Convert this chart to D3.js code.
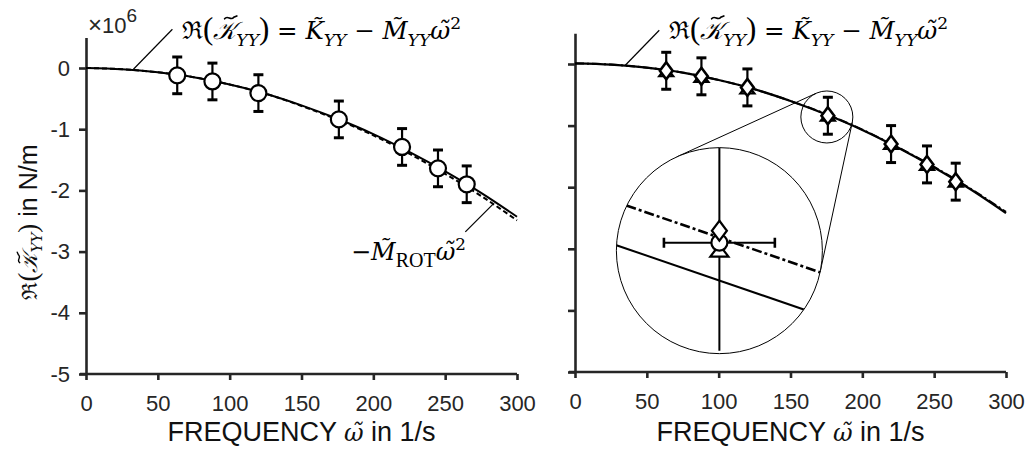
<!DOCTYPE html>
<html>
<head>
<meta charset="utf-8">
<script src="https://cdn.jsdelivr.net/npm/d3@7"></script>
<style>
  body { margin: 0; background: #fff; }
  svg { display: block; }
</style>
</head>
<body>
<div id="chart"></div>
<script>
// measured points (omega in 1/s, values in 1e6 N/m)
var omega = [63.5, 88, 120, 176, 220, 245, 265];
var leftCircle = [-0.12, -0.22, -0.41, -0.84, -1.29, -1.64, -1.90];
var rightCircle = [-0.12, -0.22, -0.40, -0.85, -1.31, -1.64, -1.92];
var rightTriangle = [-0.14, -0.23, -0.42, -0.86, -1.32, -1.66, -1.93];
var rightDiamond = [-0.11, -0.20, -0.38, -0.84, -1.30, -1.63, -1.91];
var errY = [0.3, 0.3, 0.3, 0.3, 0.3, 0.3, 0.3];

// fitted curves
var curveOmega = [0, 25, 50, 75, 100, 125, 150, 175, 200, 225, 250, 275, 300];
var fitLeft = [0.00, -0.02, -0.07, -0.15, -0.27, -0.42, -0.61, -0.83, -1.08, -1.37, -1.69, -2.04, -2.43];
var rotLeft = [0.00, -0.02, -0.07, -0.15, -0.27, -0.42, -0.62, -0.845, -1.10, -1.40, -1.73, -2.09, -2.49];
var fitRight = [0.01, -0.01, -0.06, -0.14, -0.26, -0.41, -0.60, -0.82, -1.07, -1.36, -1.68, -2.03, -2.42];
var rotRight = [0.01, -0.01, -0.06, -0.14, -0.26, -0.41, -0.60, -0.815, -1.065, -1.355, -1.67, -2.02, -2.40];

// magnified view around the point at 176 1/s
var insetOmega = [176];
var insetCircle = [-0.767];
var insetDiamond = [-0.717];
var insetTriangle = [-0.805];
var insetErrOmega = [14];
var insetErrY = [0.45];
var insetLineOmega = [148, 204];
var insetFit = [-0.766, -1.083];
var insetRot = [-0.586, -0.905];

var xTicks = [0, 50, 100, 150, 200, 250, 300];
var yTicks = [0, -1, -2, -3, -4, -5];

var width = 1027, height = 450;
var axisColor = '#262626';
var sans = '"Liberation Sans", Arial, sans-serif';
var serif = '"DejaVu Serif", serif';
var upright = '"Liberation Serif", serif';

var svg = d3.select('#chart').append('svg')
    .attr('width', width)
    .attr('height', height);

svg.append('rect').attr('width', width).attr('height', height).attr('fill', '#fff');

// writes a run of math pieces as tspans; sub/sup shift the baseline
function mathText(g, x, y, size, parts) {
    var text = g.append('text')
        .attr('x', x).attr('y', y)
        .attr('font-family', serif)
        .attr('font-size', size)
        .attr('fill', '#000');
    var shift = 0;
    parts.forEach(function(p) {
        var target = p.sub ? size * 0.28 : (p.sup ? -size * 0.42 : 0);
        var ts = text.append('tspan')
            .attr('dy', target - shift)
            .text(p.t);
        shift = target;
        if (p.sub || p.sup) ts.attr('font-size', size * 0.7);
        if (p.size) ts.attr('font-size', p.size);
        if (p.it) ts.attr('font-style', 'italic');
        if (p.fam) ts.attr('font-family', p.fam);
        if (p.cls) ts.attr('class', p.cls);
    });
    return text;
}

// the script K comes from a fallback font without combining marks,
// so its tilde is drawn as a small stroke above the glyph
function tildeOver(g, tspan, baseline, size) {
    var b = tspan.node().getBBox();
    var w = size * 0.5, h = size * 0.09;
    var x0 = b.x + b.width * 0.58 - w / 2;
    var y0 = baseline - size * 0.86;
    g.append('path')
        .attr('d', 'M' + x0 + ',' + (y0 + h * 0.4) +
            'C' + (x0 + w * 0.25) + ',' + (y0 - h * 1.6) + ' ' + (x0 + w * 0.5) + ',' + (y0 + h * 1.6) + ' ' +
            (x0 + w * 0.75) + ',' + (y0 - h * 0.3) +
            'L' + (x0 + w) + ',' + (y0 - h * 0.9))
        .attr('fill', 'none').attr('stroke', '#000').attr('stroke-width', size * 0.065)
        .attr('stroke-linecap', 'round');
}

var formulaParts = [
    { t: 'ℜ' },
    { t: '(', size: 31, fam: upright },
    { t: '𝒦', it: true, cls: 'scriptK' },
    { t: 'YY', sub: true, it: true },
    { t: ')', size: 31, fam: upright },
    { t: ' = ' },
    { t: 'K̃', it: true },
    { t: 'YY', sub: true, it: true },
    { t: ' − ' },
    { t: 'M̃', it: true },
    { t: 'YY', sub: true, it: true },
    { t: 'ω̃', it: true },
    { t: '2', sup: true }
];

function drawPanel(opts) {
    var x = d3.scaleLinear().domain([0, 300]).range(opts.xRange);
    var y = d3.scaleLinear().domain([-5, 0.5]).range(opts.yRange);
    var g = svg.append('g');

    var xAxis = g.append('g')
        .attr('transform', 'translate(0,' + y(-5) + ')')
        .call(d3.axisBottom(x).tickValues(xTicks).tickSize(6).tickSizeOuter(0).tickPadding(15)
            .tickFormat(function(d) { return String(d); }));
    var yAxis = g.append('g')
        .attr('transform', 'translate(' + x(0) + ',0)')
        .call(d3.axisLeft(y).tickValues(yTicks).tickSize(7).tickSizeOuter(0).tickPadding(9)
            .tickFormat(function(d) { return opts.yLabels ? String(d) : ''; }));

    [xAxis, yAxis].forEach(function(a) {
        a.select('.domain').attr('stroke', axisColor).attr('stroke-width', 2.6);
        a.selectAll('.tick line').attr('stroke', axisColor).attr('stroke-width', 2.6);
        a.selectAll('.tick text').attr('fill', axisColor)
            .attr('font-family', sans).attr('font-size', 22);
    });
    // extend x axis line slightly left like the original
    xAxis.select('.domain').attr('d', 'M' + (x(0) - 6) + ',0H' + x(300));

    g.append('text')
        .attr('x', (x(0) + x(300)) / 2)
        .attr('y', 441)
        .attr('text-anchor', 'middle')
        .attr('font-family', sans)
        .attr('font-size', 27)
        .attr('fill', '#111')
        .call(function(t) {
            t.append('tspan').text('FREQUENCY ');
            t.append('tspan').attr('font-family', serif).attr('font-style', 'italic').attr('font-size', 24).text('ω̃');
            t.append('tspan').text(' in 1/s');
        });

    return { x: x, y: y, g: g };
}

function curvePath(xs, ys, sx, sy) {
    return d3.line()
        .x(function(d) { return sx(d[0]); })
        .y(function(d) { return sy(d[1]); })
        .curve(d3.curveMonotoneX)(d3.zip(xs, ys));
}

function errorBars(g, xs, ys, errs, sx, sy, cap) {
    var data = d3.zip(xs, ys, errs);
    var eb = g.append('g').attr('stroke', '#000').attr('stroke-width', 2.2);
    eb.selectAll('line.v').data(data).enter().append('line')
        .attr('x1', function(d) { return sx(d[0]); })
        .attr('x2', function(d) { return sx(d[0]); })
        .attr('y1', function(d) { return sy(d[1] + d[2]); })
        .attr('y2', function(d) { return sy(d[1] - d[2]); });
    [1, -1].forEach(function(s) {
        eb.selectAll('line.c' + s).data(data).enter().append('line')
            .attr('x1', function(d) { return sx(d[0]) - cap; })
            .attr('x2', function(d) { return sx(d[0]) + cap; })
            .attr('y1', function(d) { return sy(d[1] + s * d[2]); })
            .attr('y2', function(d) { return sy(d[1] + s * d[2]); })
            .attr('stroke-width', 3);
    });
}

function markers(g, xs, ys, sx, sy, kind, sz, sw) {
    var sym = g.append('g').selectAll('path').data(d3.zip(xs, ys)).enter().append('path')
        .attr('fill', '#fff').attr('stroke', '#000').attr('stroke-width', sw || 2.2)
        .attr('transform', function(d) { return 'translate(' + sx(d[0]) + ',' + sy(d[1]) + ')'; });
    if (kind === 'circle') {
        sym.attr('d', 'M' + sz + ',0A' + sz + ',' + sz + ' 0 1,1 ' + (-sz) + ',0A' + sz + ',' + sz + ' 0 1,1 ' + sz + ',0Z');
    } else if (kind === 'diamond') {
        var w = sz * 0.75;
        sym.attr('d', 'M0,' + (-sz) + 'L' + w + ',0L0,' + sz + 'L' + (-w) + ',0Z');
    } else {
        var h = sz * 1.3;
        sym.attr('d', 'M0,' + (-h * 0.6) + 'L' + sz + ',' + (h * 0.4) + 'L' + (-sz) + ',' + (h * 0.4) + 'Z');
    }
}

// ---------- left panel ----------
var L = drawPanel({ xRange: [86, 517], yRange: [374, 37.4], yLabels: true });

L.g.append('path').attr('d', curvePath(curveOmega, rotLeft, L.x, L.y))
    .attr('fill', 'none').attr('stroke', '#000').attr('stroke-width', 2)
    .attr('stroke-dasharray', '5,3');
L.g.append('path').attr('d', curvePath(curveOmega, fitLeft, L.x, L.y))
    .attr('fill', 'none').attr('stroke', '#000').attr('stroke-width', 2);

errorBars(L.g, omega, leftCircle, errY, L.x, L.y, 5);
markers(L.g, omega, leftCircle, L.x, L.y, 'circle', 8);

// x10^6 label
svg.append('text').attr('x', 88).attr('y', 33)
    .attr('font-family', sans).attr('font-size', 22).attr('fill', axisColor)
    .call(function(t) {
        t.append('tspan').attr('font-size', 24).text('×');
        t.append('tspan').text('10');
        t.append('tspan').attr('dy', -11).attr('font-size', 19).text('6');
    });

// y axis title
var yl = svg.append('g').attr('transform', 'translate(37,222) rotate(-90)');
var ylText = yl.append('text')
    .attr('text-anchor', 'middle')
    .attr('font-family', sans).attr('font-size', 25).attr('fill', '#111');
ylText.append('tspan').attr('font-family', serif).attr('font-size', 21).text('ℜ');
ylText.append('tspan').attr('font-family', upright).attr('font-size', 27).text('(');
var ylK = ylText.append('tspan').attr('font-family', serif).attr('font-size', 21).attr('font-style', 'italic').text('𝒦');
ylText.append('tspan').attr('font-family', serif).attr('font-style', 'italic').attr('font-size', 15).attr('dy', 5).text('YY');
ylText.append('tspan').attr('font-family', upright).attr('font-size', 27).attr('dy', -5).text(')');
ylText.append('tspan').text(' in N/m');
tildeOver(yl, ylK, 0, 21);

// annotations left
L.g.append('line')
    .attr('x1', L.x(33)).attr('y1', L.y(-0.02))
    .attr('x2', L.x(33) + 39).attr('y2', L.y(-0.02) - 40)
    .attr('stroke', '#000').attr('stroke-width', 1.2);
var fL = mathText(L.g, 182, 39, 24.5, formulaParts);
tildeOver(L.g, fL.select('.scriptK'), 39, 24.5);

L.g.append('line')
    .attr('x1', L.x(283.5)).attr('y1', L.y(-2.22))
    .attr('x2', L.x(283.5) - 28).attr('y2', L.y(-2.22) + 28)
    .attr('stroke', '#000').attr('stroke-width', 1.2);
mathText(L.g, 351, 260, 24, [
    { t: '−' },
    { t: 'M̃', it: true },
    { t: 'ROT', sub: true, fam: upright, size: 20 },
    { t: 'ω̃', it: true },
    { t: '2', sup: true }
]);

// ---------- right panel ----------
var R = drawPanel({ xRange: [575, 1006], yRange: [372, 33.2], yLabels: false });

R.g.append('path').attr('d', curvePath(curveOmega, rotRight, R.x, R.y))
    .attr('fill', 'none').attr('stroke', '#000').attr('stroke-width', 2)
    .attr('stroke-dasharray', '9,3,2,3');
R.g.append('path').attr('d', curvePath(curveOmega, fitRight, R.x, R.y))
    .attr('fill', 'none').attr('stroke', '#000').attr('stroke-width', 2.2);

errorBars(R.g, omega, rightDiamond, errY, R.x, R.y, 5);
markers(R.g, omega, rightCircle, R.x, R.y, 'circle', 5);
markers(R.g, omega, rightTriangle, R.x, R.y, 'triangle', 7);
markers(R.g, omega, rightDiamond, R.x, R.y, 'diamond', 8.5, 2.6);

R.g.append('line')
    .attr('x1', R.x(35)).attr('y1', R.y(-0.02))
    .attr('x2', R.x(35) + 34).attr('y2', R.y(-0.02) - 35)
    .attr('stroke', '#000').attr('stroke-width', 1.2);
var fR = mathText(R.g, 669, 39, 24.5, formulaParts);
tildeOver(R.g, fR.select('.scriptK'), 39, 24.5);

// zoom circles
var sc = { x: R.x(insetOmega[0]) - 1, y: R.y(-0.86), r: 26 };
var bc = { x: R.x(100.5), y: R.y(-3.03), r: 103 };
var dx = bc.x - sc.x, dy = bc.y - sc.y;
var D = Math.sqrt(dx * dx + dy * dy);
var th = Math.atan2(dy, dx), al = Math.acos((sc.r - bc.r) / D);
[th + al, th - al].forEach(function(a) {
    R.g.append('line')
        .attr('x1', sc.x + sc.r * Math.cos(a)).attr('y1', sc.y + sc.r * Math.sin(a))
        .attr('x2', bc.x + bc.r * Math.cos(a)).attr('y2', bc.y + bc.r * Math.sin(a))
        .attr('stroke', '#000').attr('stroke-width', 1);
});
R.g.append('circle').attr('cx', sc.x).attr('cy', sc.y).attr('r', sc.r)
    .attr('fill', 'none').attr('stroke', '#000').attr('stroke-width', 1);
R.g.append('circle').attr('cx', bc.x).attr('cy', bc.y).attr('r', bc.r)
    .attr('fill', '#fff').attr('stroke', '#000').attr('stroke-width', 1);

svg.append('clipPath').attr('id', 'insetClip')
    .append('circle').attr('cx', bc.x).attr('cy', bc.y).attr('r', bc.r);

var xi = d3.scaleLinear().domain([150, 202]).range([bc.x - bc.r, bc.x + bc.r]);
var yi = d3.scaleLinear().domain([-1.229, -0.371]).range([bc.y + bc.r, bc.y - bc.r]);
var ig = R.g.append('g').attr('clip-path', 'url(#insetClip)');

ig.append('path').attr('d', d3.line().x(function(d) { return xi(d[0]); }).y(function(d) { return yi(d[1]); })(d3.zip(insetLineOmega, insetFit)))
    .attr('fill', 'none').attr('stroke', '#000').attr('stroke-width', 2);
ig.append('path').attr('d', d3.line().x(function(d) { return xi(d[0]); }).y(function(d) { return yi(d[1]); })(d3.zip(insetLineOmega, insetRot)))
    .attr('fill', 'none').attr('stroke', '#000').attr('stroke-width', 2.6)
    .attr('stroke-dasharray', '10,3,3,3');

// vertical and horizontal error bars of the magnified point
ig.append('line')
    .attr('x1', xi(insetOmega[0])).attr('x2', xi(insetOmega[0]))
    .attr('y1', yi(insetCircle[0] + insetErrY[0])).attr('y2', yi(insetCircle[0] - insetErrY[0]))
    .attr('stroke', '#000').attr('stroke-width', 2);
ig.append('line')
    .attr('x1', xi(insetOmega[0] - insetErrOmega[0])).attr('x2', xi(insetOmega[0] + insetErrOmega[0]))
    .attr('y1', yi(insetCircle[0])).attr('y2', yi(insetCircle[0]))
    .attr('stroke', '#000').attr('stroke-width', 2);
[-1, 1].forEach(function(s) {
    ig.append('line')
        .attr('x1', xi(insetOmega[0] + s * insetErrOmega[0])).attr('x2', xi(insetOmega[0] + s * insetErrOmega[0]))
        .attr('y1', yi(insetCircle[0]) - 5).attr('y2', yi(insetCircle[0]) + 5)
        .attr('stroke', '#000').attr('stroke-width', 2.6);
});
markers(ig, insetOmega, insetTriangle, xi, yi, 'triangle', 9);
markers(ig, insetOmega, insetCircle, xi, yi, 'circle', 8);
markers(ig, insetOmega, insetDiamond, xi, yi, 'diamond', 10);
</script>
</body>
</html>
